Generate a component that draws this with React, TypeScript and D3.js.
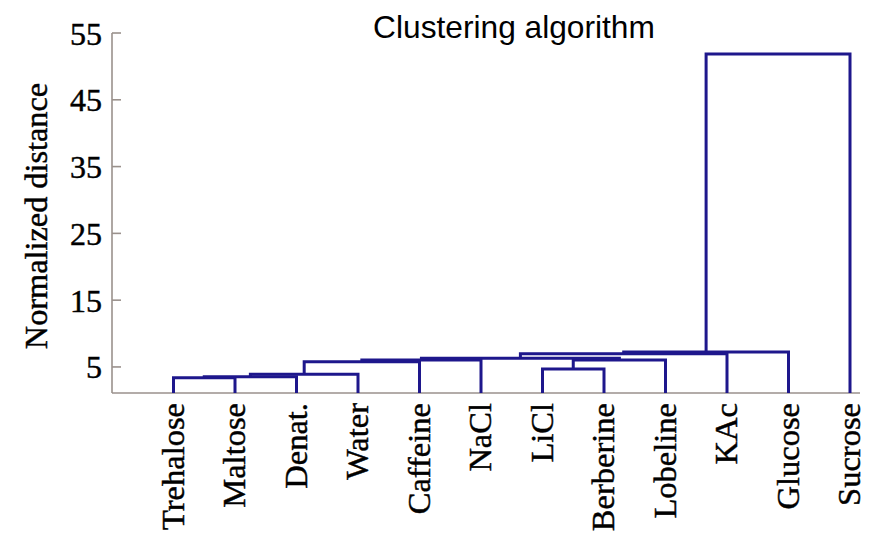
import React from "react";
import * as d3 from "d3";

const leafLabels = ["Trehalose", "Maltose", "Denat.", "Water", "Caffeine", "NaCl", "LiCl", "Berberine", "Lobeline", "KAc", "Glucose", "Sucrose"];
// linkage: [left node, right node, merge height]; leaves 0..11, clusters numbered from 12
const linkLeft = [0, 12, 13, 14, 15, 6, 17, 16, 19, 20, 21];
const linkRight = [1, 2, 3, 4, 5, 7, 8, 18, 9, 10, 11];
const linkHeight = [3.39, 3.54, 3.9, 5.79, 6.03, 4.69, 6.05, 6.3, 6.97, 7.24, 51.86];
const yTicks = [5, 15, 25, 35, 45, 55];
const titleText = "Clustering algorithm";
const yLabel = "Normalized distance";

const W = 874;
const H = 538;
const X0 = 112;
const X1 = 850;
const Y0 = 393;
const Y1 = 33;

export default function App() {
  const x = d3.scaleLinear().domain([0, leafLabels.length]).range([X0, X1]);
  const y = d3.scaleLinear().domain([1.1, 55]).range([Y0, Y1]);
  const n = leafLabels.length;

  const nodeX: number[] = leafLabels.map((_, i) => x(i + 1));
  const nodeH: number[] = leafLabels.map(() => 1.1);
  const paths: string[] = [];
  linkLeft.forEach((l, k) => {
    const r = linkRight[k];
    const h = linkHeight[k];
    const p = d3.path();
    p.moveTo(nodeX[l], y(nodeH[l]));
    p.lineTo(nodeX[l], y(h));
    p.lineTo(nodeX[r], y(h));
    p.lineTo(nodeX[r], y(nodeH[r]));
    paths.push(p.toString());
    nodeX[n + k] = (nodeX[l] + nodeX[r]) / 2;
    nodeH[n + k] = h;
  });

  const lineColor = "#1e178c";
  const axisColor = "#9a918c";
  const serif = "'Liberation Serif', 'Times New Roman', serif";
  const textStroke = { stroke: "#000", strokeWidth: 0.45 };

  return (
    <svg width={W} height={H} style={{ display: "block", position: "absolute", left: 0, top: 0, background: "#fff" }}>
      <rect x={0} y={0} width={W} height={H} fill="#fff" />
      {/* axes */}
      <line x1={X0} x2={860} y1={Y0} y2={Y0} stroke={axisColor} strokeWidth={1.6} />
      <line x1={X0} x2={X0} y1={Y1} y2={Y0} stroke={axisColor} strokeWidth={1.6} />
      {yTicks.map((t) => (
        <g key={t}>
          <line x1={X0} x2={X0 + 9} y1={y(t)} y2={y(t)} stroke={axisColor} strokeWidth={1.6} />
          <text x={X0 - 10} y={y(t)} dy="0.36em" textAnchor="end" fontFamily={serif} fontSize={32} fill="#000" {...textStroke}>
            {t}
          </text>
        </g>
      ))}
      {/* dendrogram */}
      {paths.map((d, i) => (
        <path key={i} d={d} fill="none" stroke={lineColor} strokeWidth={3} strokeLinejoin="miter" />
      ))}
      {/* leaf labels */}
      {leafLabels.map((lab, i) => (
        <text
          key={lab}
          transform={`translate(${x(i + 1) + 10},${Y0 + 10}) rotate(-90)`}
          textAnchor="end"
          fontFamily={serif}
          fontSize={32.5}
          fill="#000"
          {...textStroke}
        >
          {lab}
        </text>
      ))}
      {/* y label */}
      <text
        transform={`translate(47,${(Y0 + Y1) / 2 + 3}) rotate(-90)`}
        textAnchor="middle"
        fontFamily={serif}
        fontSize={32.3}
        fill="#000"
        {...textStroke}
      >
        {yLabel}
      </text>
      {/* title */}
      <text x={514} y={38} textAnchor="middle" fontFamily="'Liberation Sans', Arial, sans-serif" fontSize={31.7} fill="#000">
        {titleText}
      </text>
    </svg>
  );
}
